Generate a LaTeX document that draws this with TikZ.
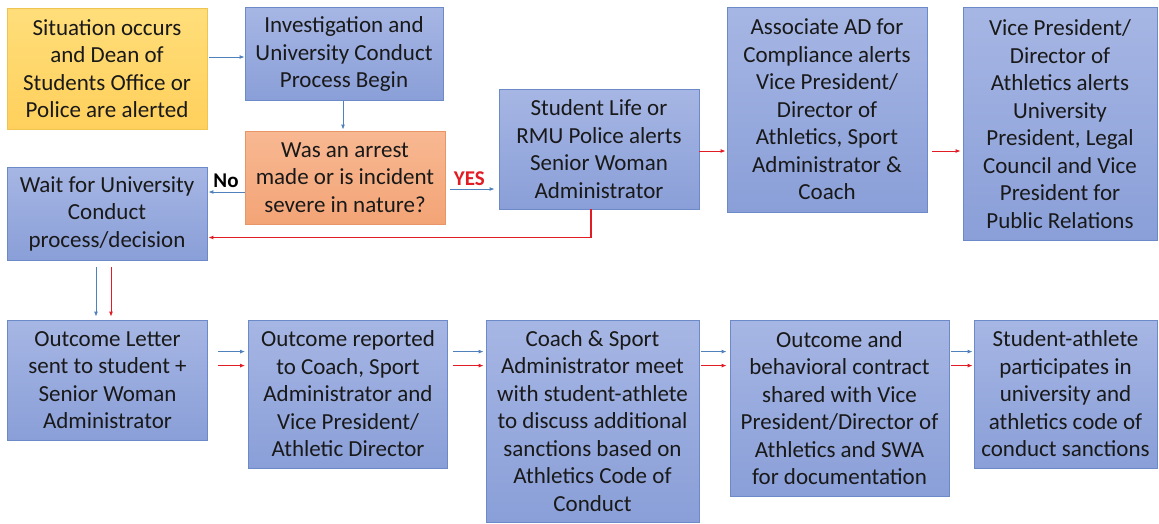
\documentclass[tikz,border=0pt]{standalone}
\usepackage{fontspec}
\setmainfont{Carlito}
\usetikzlibrary{arrows.meta}
\definecolor{bxtop}{RGB}{166,182,228}
\definecolor{bxbot}{RGB}{138,159,216}
\definecolor{bxline}{RGB}{108,138,200}
\definecolor{yltop}{RGB}{255,222,122}
\definecolor{ylbot}{RGB}{255,208,92}
\definecolor{ylline}{RGB}{240,196,80}
\definecolor{ortop}{RGB}{248,184,146}
\definecolor{orbot}{RGB}{243,164,118}
\definecolor{orline}{RGB}{232,150,104}
\definecolor{arblue}{RGB}{79,129,189}
\definecolor{arred}{RGB}{226,28,36}
\tikzset{
  box/.style={draw=bxline, line width=0.8pt, top color=bxtop, bottom color=bxbot,
    align=center, inner sep=0pt, font=\fontsize{23}{27.5}\selectfont, text=black!90},
  ybox/.style={box, draw=ylline, top color=yltop, bottom color=ylbot},
  obox/.style={box, draw=orline, top color=ortop, bottom color=orbot},
  barrow/.style={draw=arblue, line width=0.9pt, -{Latex[length=5pt,width=4pt]}},
  rarrow/.style={draw=arred, line width=0.9pt, -{Latex[length=5pt,width=4pt]}},
  lbl/.style={font=\fontsize{21}{24}\selectfont\bfseries, inner sep=0pt}
}
\begin{document}
\begin{tikzpicture}[x=1pt,y=-1pt]
\useasboundingbox (0,0) rectangle (1159,523);
% top area
\node[ybox, minimum width=200pt, minimum height=121pt] (sit) at (107,68.5)
  {Situation occurs\\and Dean of\\Students Office or\\Police are alerted};
\node[box, minimum width=198pt, minimum height=93pt] (inv) at (344,54)
  {Investigation and\\University Conduct\\Process Begin};
\node[obox, minimum width=200pt, minimum height=93pt] (was) at (345,177.5)
  {Was an arrest\\made or is incident\\severe in nature?};
\node[box, minimum width=200pt, minimum height=93pt] (wait) at (107,213.5)
  {Wait for University\\Conduct\\process/decision};
\node[box, minimum width=200pt, minimum height=120pt] (sl) at (599,149)
  {Student Life or\\RMU Police alerts\\Senior Woman\\Administrator};
\node[box, minimum width=200pt, minimum height=205pt] (aad) at (827,109.5)
  {Associate AD for\\Compliance alerts\\Vice President/\\Director of\\Athletics, Sport\\Administrator \&\\Coach};
\node[box, minimum width=194pt, minimum height=233pt] (vp) at (1060,124)
  {Vice President/\\Director of\\Athletics alerts\\University\\President, Legal\\Council and Vice\\President for\\Public Relations};
% bottom row
\node[box, minimum width=200pt, minimum height=120pt] (ol) at (107.5,380)
  {Outcome Letter\\sent to student +\\Senior Woman\\Administrator};
\node[box, minimum width=199pt, minimum height=148pt] (or) at (348,394)
  {Outcome reported\\to Coach, Sport\\Administrator and\\Vice President/\\Athletic Director};
\node[box, minimum width=213pt, minimum height=202pt] (co) at (592.5,421)
  {Coach \& Sport\\Administrator meet\\with student-athlete\\to discuss additional\\sanctions based on\\Athletics Code of\\Conduct};
\node[box, minimum width=219pt, minimum height=176pt] (oa) at (839.5,408)
  {Outcome and\\behavioral contract\\shared with Vice\\President/Director of\\Athletics and SWA\\for documentation};
\node[box, minimum width=183pt, minimum height=148pt] (sa) at (1065.5,394)
  {Student-athlete\\participates in\\university and\\athletics code of\\conduct sanctions};
% connectors top
\draw[barrow, shorten <=2pt] ([yshift=11.5pt]sit.east) -- ([yshift=-3pt]inv.west);
\draw[barrow, shorten >=1pt] ([xshift=-1pt]inv.south) -- ([xshift=-2pt]was.north);
\draw[barrow, shorten >=1pt] ([yshift=-14.5pt]was.west) -- node[lbl, above=4pt, pos=0.5] (no) {No} ([yshift=21.5pt]wait.east);
\draw[barrow, shorten <=5pt, shorten >=4pt] ([yshift=-11.5pt]was.east) -- node[lbl, text=arred, above=3pt, pos=0.45] (yes) {YES} ([yshift=-40pt]sl.west);
\draw[rarrow, line width=1.1pt, shorten >=1pt] ([xshift=-8pt]sl.south) |- ([yshift=-24pt]wait.east);
\draw[rarrow, shorten >=1pt] ([yshift=-2pt]sl.east) -- ([yshift=-41.5pt]aad.west);
\draw[rarrow, shorten <=5pt, shorten >=2pt] ([yshift=-41.5pt]aad.east) -- ([yshift=-27pt]vp.west);
\draw[barrow, shorten <=7pt, shorten >=3pt] ([xshift=-11pt]wait.south) -- ([xshift=-11.5pt]ol.north);
\draw[rarrow, shorten <=7pt, shorten >=3pt] ([xshift=4pt]wait.south) -- ([xshift=3.5pt]ol.north);
% connectors bottom
\foreach \a/\b/\s/\t in {ol/or/10/3, or/co/5/2, co/oa/2/3, oa/sa/2/1}{
  \draw[barrow, shorten <=\s pt, shorten >=\t pt] ([yshift=-32pt]\a.north east) -- ([yshift=-32pt]\b.north west);
  \draw[rarrow, shorten <=\s pt, shorten >=\t pt] ([yshift=-46pt]\a.north east) -- ([yshift=-46pt]\b.north west);
}
\end{tikzpicture}
\end{document}
